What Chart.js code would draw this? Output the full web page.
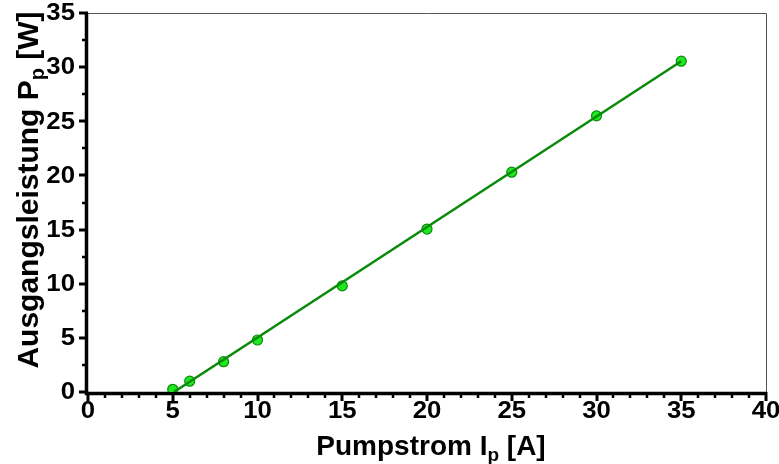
<!DOCTYPE html>
<html>
<head>
<meta charset="utf-8">
<script src="https://cdn.jsdelivr.net/npm/chart.js@4.4.0/dist/chart.umd.min.js"></script>
<style>
  html, body { margin: 0; padding: 0; background: #fff; }
  #wrap { width: 779px; height: 464px; }
</style>
</head>
<body>
<div id="wrap"><canvas id="chart" width="779" height="464"></canvas></div>
<script>
// Measured points: pump current [A] vs output power [W]
const pumpCurrent = [5, 6, 8, 10, 15, 20, 25, 30, 35];
const outputPower = [0.25, 1.0, 2.8, 4.8, 9.8, 15.05, 20.3, 25.5, 30.55];

// Linear fit line end points
const fitCurrent = [5.07, 35];
const fitPower = [0, 30.55];

// Axis tick labels
const xTickLabels = ['0', '5', '10', '15', '20', '25', '30', '35', '40'];
const yTickLabels = ['0', '5', '10', '15', '20', '25', '30', '35'];

const X_MIN = 0, X_MAX = 40, X_MAJOR = 5, X_MINOR = 1;
const Y_MIN = 0, Y_MAX = 35, Y_MAJOR = 5, Y_MINOR = 2.5;

const FONT = '"Liberation Sans", Arial, sans-serif';

function drawSubText(ctx, parts, x, y, size) {
    // parts: [text, isSub], centred on x
    const big = 'bold ' + size + 'px ' + FONT;
    const small = 'bold ' + Math.round(size * 0.68) + 'px ' + FONT;
    let total = 0;
    parts.forEach(p => {
        ctx.font = p[1] ? small : big;
        total += ctx.measureText(p[0]).width;
    });
    let cx = x - total / 2;
    ctx.textAlign = 'left';
    ctx.textBaseline = 'alphabetic';
    parts.forEach(p => {
        ctx.font = p[1] ? small : big;
        ctx.fillText(p[0], cx, p[1] ? y + 6 : y);
        cx += ctx.measureText(p[0]).width;
    });
}

function drawLabel(ctx, text, x, y, align) {
    // slightly wide digits like the original
    ctx.save();
    ctx.translate(x, y);
    ctx.scale(1.12, 1);
    ctx.textAlign = align;
    ctx.textBaseline = 'middle';
    ctx.fillText(text, 0, 0);
    ctx.restore();
}

const axesPlugin = {
    id: 'axesPlugin',
    beforeDatasetsDraw(chart) {
        const ctx = chart.ctx;
        const a = chart.chartArea;
        const xs = chart.scales.x, ys = chart.scales.y;
        ctx.save();
        // thin frame top/right
        ctx.strokeStyle = '#555';
        ctx.lineWidth = 1;
        ctx.beginPath();
        ctx.moveTo(a.left, a.top + 0.5);
        ctx.lineTo(a.right + 0.5, a.top + 0.5);
        ctx.lineTo(a.right + 0.5, a.bottom);
        ctx.stroke();

        ctx.strokeStyle = '#000';
        // x ticks
        for (let v = X_MIN; v <= X_MAX + 1e-6; v += X_MINOR) {
            const px = Math.round(xs.getPixelForValue(v));
            const major = Math.abs(v / X_MAJOR - Math.round(v / X_MAJOR)) < 1e-6;
            ctx.lineWidth = major ? 3 : 2.5;
            ctx.beginPath();
            ctx.moveTo(px, a.bottom);
            ctx.lineTo(px, a.bottom + (major ? 9 : 6));
            ctx.stroke();
        }
        // y ticks
        for (let v = Y_MIN; v <= Y_MAX + 1e-6; v += Y_MINOR) {
            const py = Math.round(ys.getPixelForValue(v));
            const major = Math.abs(v / Y_MAJOR - Math.round(v / Y_MAJOR)) < 1e-6;
            ctx.lineWidth = major ? 3 : 2.5;
            ctx.beginPath();
            ctx.moveTo(a.left, py);
            ctx.lineTo(a.left - (major ? 9 : 6), py);
            ctx.stroke();
        }
        // thick axes
        ctx.lineWidth = 3.5;
        ctx.beginPath();
        ctx.moveTo(a.left - 1.5, a.top);
        ctx.lineTo(a.left - 1.5, a.bottom + 1.5);
        ctx.lineTo(a.right + 1, a.bottom + 1.5);
        ctx.stroke();

        // tick labels
        ctx.fillStyle = '#000';
        ctx.font = 'bold 23px ' + FONT;
        xTickLabels.forEach(t => {
            drawLabel(ctx, t, xs.getPixelForValue(Number(t)), a.bottom + 20, 'center');
        });
        yTickLabels.forEach(t => {
            drawLabel(ctx, t, a.left - 13, ys.getPixelForValue(Number(t)) + 1, 'right');
        });

        // titles
        drawSubText(ctx, [['Pumpstrom I', false], ['p', true], [' [A]', false]], 431, 455, 28);
        ctx.translate(38, 190);
        ctx.rotate(-Math.PI / 2);
        drawSubText(ctx, [['Ausgangsleistung P', false], ['p', true], [' [W]', false]], 0, 0, 30);
        ctx.restore();
    }
};

new Chart(document.getElementById('chart'), {
    type: 'scatter',
    data: {
        datasets: [
            {
                label: 'Fit',
                data: fitCurrent.map((x, i) => ({ x: x, y: fitPower[i] })),
                showLine: true,
                borderColor: '#0a8a0a',
                borderWidth: 2.5,
                pointRadius: 0,
                pointHoverRadius: 0
            },
            {
                label: 'Messung',
                data: pumpCurrent.map((x, i) => ({ x: x, y: outputPower[i] })),
                showLine: false,
                pointRadius: 5,
                pointBackgroundColor: '#1fe81f',
                pointBorderColor: '#0a8a0a',
                pointBorderWidth: 1.2
            }
        ]
    },
    options: {
        responsive: false,
        animation: false,
        layout: { padding: { top: 13, right: 13, left: 0, bottom: 0 } },
        plugins: {
            legend: { display: false },
            tooltip: { enabled: false }
        },
        scales: {
            x: {
                type: 'linear',
                min: X_MIN,
                max: X_MAX,
                afterFit(scale) { scale.height = 72; },
                grid: { display: false, drawTicks: false },
                border: { display: false },
                ticks: { display: false, stepSize: X_MAJOR }
            },
            y: {
                type: 'linear',
                min: Y_MIN,
                max: Y_MAX,
                afterFit(scale) { scale.width = 88; },
                grid: { display: false, drawTicks: false },
                border: { display: false },
                ticks: { display: false, stepSize: Y_MAJOR }
            }
        }
    },
    plugins: [axesPlugin]
});
</script>
</body>
</html>
